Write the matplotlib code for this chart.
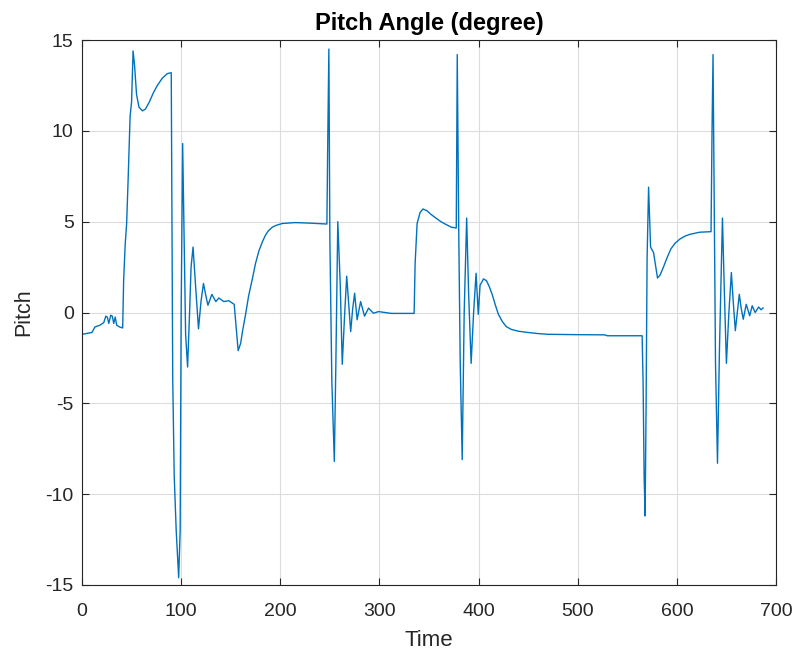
# -*- coding: utf-8 -*-

import numpy as np
import matplotlib
matplotlib.use('Agg')
import matplotlib.pyplot as plt

plt.rcParams['font.family'] = ['Liberation Sans', 'DejaVu Sans']
plt.rcParams['axes.unicode_minus'] = False  # plain hyphen like matlab

# pitch response (time, degree)
time = [0, 5, 10, 13, 18, 22, 24, 25.5, 27, 29, 30.5, 32, 33.5, 35, 38, 41,
        42, 43.5, 45, 46.5, 48.5, 50, 51.5, 53, 55, 57.5, 61, 64, 68, 72, 76, 81, 86, 90,
        90.8, 91.5, 93, 95, 97.5, 99, 100, 101.5, 103, 104.5, 106.5, 108.5, 110, 112,
        114.5, 117.5, 120, 122.5, 125, 127, 131, 135, 138, 143, 148, 153.5, 155, 157.5,
        160, 162, 165, 168, 172, 175, 178.5, 182, 185, 188, 192, 196, 202, 215, 230, 247,
        248, 249, 250, 252, 254.5, 256, 258, 260.5, 262.5, 265, 267, 269, 271, 273, 275,
        277.5, 281, 285, 289, 294, 299, 312, 335,
        336, 338, 341, 344, 348, 352, 357, 362, 367, 372.5, 377.5,
        378.5, 380, 381.5, 383.5, 385.5, 388, 390, 392.5, 395, 397.5, 399.7, 401.5, 405,
        408, 411, 414, 417, 420, 424, 428, 433, 440, 450, 460, 470, 500, 527, 530, 565,
        566, 567, 568, 569, 570, 571.5, 573.5, 576.5, 580.5, 583, 586.5, 590, 594, 598,
        603, 608, 613, 623, 634.5,
        635.5, 636.5, 638, 639, 641, 643, 646, 648, 650, 652.5, 655, 657, 659, 661, 663,
        665, 667, 670, 673.5, 676, 679, 682.5, 685, 687]
pitch = [-1.2, -1.15, -1.1, -0.8, -0.7, -0.55, -0.2, -0.25, -0.6, -0.15, -0.2, -0.6, -0.25, -0.7, -0.8, -0.85,
         1.8, 3.7, 4.9, 7.3, 10.8, 11.6, 14.4, 13.6, 12.0, 11.3, 11.1, 11.2, 11.6, 12.1, 12.5, 12.9, 13.15, 13.2,
         3.7, -3.7, -9.0, -12.0, -14.6, -12.0, 0.0, 9.3, 4.0, -1.2, -3.0, 0.0, 2.5, 3.6,
         1.5, -0.9, 0.6, 1.6, 0.9, 0.4, 1.0, 0.6, 0.8, 0.6, 0.65, 0.45, -0.5, -2.1,
         -1.7, -1.0, -0.1, 0.9, 1.9, 2.7, 3.4, 3.9, 4.25, 4.5, 4.7, 4.8, 4.9, 4.95, 4.92, 4.87,
         10.0, 14.5, 4.1, -3.8, -8.2, -3.0, 5.0, 1.5, -2.85, 0.0, 2.0, 0.5, -1.05, 0.2, 1.06,
         -0.4, 0.6, -0.2, 0.24, -0.04, 0.05, -0.05, -0.05,
         2.7, 4.9, 5.5, 5.7, 5.6, 5.4, 5.2, 5.0, 4.85, 4.7, 4.65,
         14.2, 4.5, -2.8, -8.1, 0.0, 5.2, 1.0, -2.8, 0.0, 2.16, -0.1, 1.5, 1.85,
         1.75, 1.4, 0.95, 0.4, -0.1, -0.5, -0.78, -0.93, -1.03, -1.1, -1.16, -1.2, -1.22, -1.23, -1.28, -1.28,
         -4.0, -9.0, -11.2, -5.0, 3.0, 6.9, 3.6, 3.3, 1.9, 2.05, 2.5, 3.0, 3.5, 3.8,
         4.04, 4.2, 4.3, 4.42, 4.45,
         10.0, 14.2, 4.0, -2.8, -8.3, -2.0, 5.2, 1.0, -2.8, 0.0, 2.2, 0.5, -1.0, 0.0, 1.0,
         0.2, -0.37, 0.45, -0.18, 0.37, 0.0, 0.3, 0.15, 0.25]

xticks = [0, 100, 200, 300, 400, 500, 600, 700]
yticks = [-15, -10, -5, 0, 5, 10, 15]

fig = plt.figure(figsize=(7.94, 6.55), dpi=100)
ax = fig.add_axes([0.1033, 0.1069, 0.874, 0.832])

ax.plot(time, pitch, color='#0072BD', linewidth=1.0)

ax.set_xlim(0, 700)
ax.set_ylim(-15, 15)
ax.set_xticks(xticks)
ax.set_yticks(yticks)
ax.grid(True, color='#dcdcdc', linewidth=0.8)
ax.set_axisbelow(True)

# matlab style box: ticks inward on all sides
ax.tick_params(direction='in', top=True, right=True, length=5, width=0.8,
               labelsize=14, colors='#262626')
ax.tick_params(axis='x', pad=13)
ax.tick_params(axis='y', pad=6)
for sp in ax.spines.values():
    sp.set_color('#262626')
    sp.set_linewidth(0.8)

ax.set_title('Pitch Angle (degree)', fontsize=17, fontweight='bold', color='#000000', pad=7)
ax.set_xlabel('Time', fontsize=16, color='#262626', labelpad=7)
ax.set_ylabel('Pitch', fontsize=15.5, color='#262626', labelpad=8)

fig.savefig('out.png', dpi=100)
